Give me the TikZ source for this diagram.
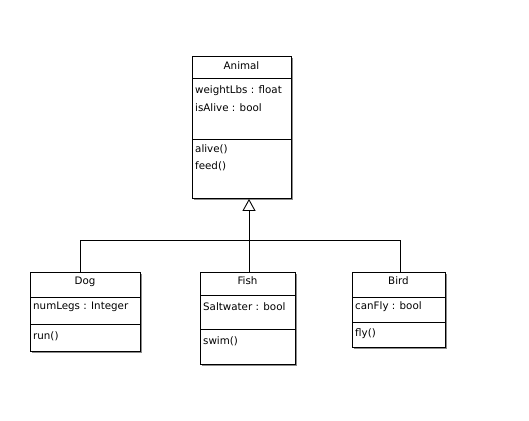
\documentclass[tikz,border=0pt]{standalone}
\usepackage{fontspec}
\setmainfont{DejaVu Sans}
\usetikzlibrary{arrows.meta,shadows}
\begin{document}
\begin{tikzpicture}[x=1pt,y=-1pt,
  classbox/.style={draw=black,line width=0.9pt,fill=white,inner sep=0pt,anchor=north west,
    general shadow={fill=black!45,shadow xshift=2pt,shadow yshift=-2pt}},
  sep/.style={line width=0.9pt},
  title/.style={inner sep=0pt,anchor=center,font=\fontsize{10.3}{12}\selectfont},
  member/.style={inner sep=0pt,anchor=west,font=\fontsize{10.3}{12}\selectfont},
  link/.style={line width=0.9pt},
  inherit/.style={line width=0.9pt,-{Triangle[open,length=12pt,width=13pt,line width=0.9pt]}}]
\useasboundingbox (0,0) rectangle (529,420);

% class boxes
\node[classbox,minimum width=99pt,minimum height=142pt] (animal) at (192,56) {};
\node[classbox,minimum width=110pt,minimum height=79pt] (dog) at (30,272) {};
\node[classbox,minimum width=95pt,minimum height=92pt] (fish) at (200,272) {};
\node[classbox,minimum width=93pt,minimum height=75pt] (bird) at (352,272) {};

% compartments
\draw[sep] (192,78) -- (291,78);
\draw[sep] (192,139) -- (291,139);
\draw[sep] (30,297) -- (140,297);
\draw[sep] (30,324) -- (140,324);
\draw[sep] (200,295) -- (295,295);
\draw[sep] (200,329) -- (295,329);
\draw[sep] (352,297) -- (445,297);
\draw[sep] (352,322) -- (445,322);

% Animal
\node[title] (animalname) at (241.5,66) {Animal};
\node[member] (animalweight) at (195,91) {weightLbs : float};
\node[member] (animalalive) at (195,108) {isAlive : bool};
\node[member] (animalaliveop) at (195,149) {alive()};
\node[member] (animalfeed) at (195,166) {feed()};

% Dog
\node[title] (dogname) at (85,282) {Dog};
\node[member] (doglegs) at (33,307) {numLegs : Integer};
\node[member] (dogrun) at (33,336) {run()};

% Fish
\node[title] (fishname) at (247.5,281) {Fish};
\node[member] (fishsalt) at (203,307) {Saltwater : bool};
\node[member] (fishswim) at (203,341) {swim()};

% Bird
\node[title] (birdname) at (398.5,281) {Bird};
\node[member] (birdfly) at (355,307) {canFly : bool};
\node[member] (birdflyop) at (355,334) {fly()};

% generalization tree
\coordinate (dogjoin) at (80,240);
\coordinate (birdjoin) at (400,240);
\coordinate (stem) at (249,240);
\draw[link] (dogjoin |- dog.north) -- (dogjoin) -- (birdjoin) -- (birdjoin |- bird.north);
\draw[inherit] (stem |- fish.north) -- (stem |- animal.south);
\end{tikzpicture}
\end{document}
